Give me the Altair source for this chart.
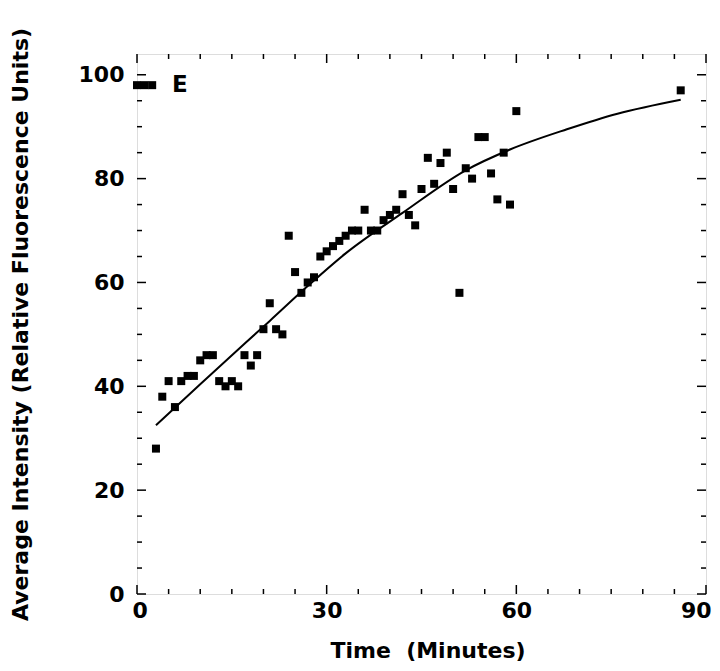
import altair as alt
import pandas as pd

# ---- data ----
time_min = [0, 1.2, 2.4, 3, 4, 5, 6, 7, 8, 9, 10, 11, 12, 13, 14, 15, 16, 17, 18, 19,
            20, 21, 22, 23, 24, 25, 26, 27, 28, 29, 30, 31, 32, 33, 34, 35, 36, 37, 38,
            39, 40, 41, 42, 43, 44, 45, 46, 47, 48, 49, 50, 51, 52, 53, 54, 55, 56, 57,
            58, 59, 60, 86]
intensity = [98, 98, 98, 28, 38, 41, 36, 41, 42, 42, 45, 46, 46, 41, 40, 41, 40, 46, 44, 46,
             51, 56, 51, 50, 69, 62, 58, 60, 61, 65, 66, 67, 68, 69, 70, 70, 74, 70, 70,
             72, 73, 74, 77, 73, 71, 78, 84, 79, 83, 85, 78, 58, 82, 80, 88, 88, 81, 76,
             85, 75, 93, 97]

fit_time = [3, 10, 17, 21, 27, 33, 42, 52, 59, 68, 76, 86]
fit_value = [32.5, 40.4, 48.2, 52.6, 59.3, 65.6, 73.4, 81.6, 85.6, 89.5, 92.5, 95.2]

y_major = [0, 20, 40, 60, 80, 100]
y_minor = [5, 10, 15, 25, 30, 35, 45, 50, 55, 65, 70, 75, 85, 90, 95]
x_major = [0, 30, 60, 90]
x_minor = [5, 10, 15, 20, 25, 35, 40, 45, 50, 55, 65, 70, 75, 80, 85]

panel_label = "E"

W, H = 569, 540
FONT = "DejaVu Sans"

pts = pd.DataFrame({"t": time_min, "v": intensity})
fit = pd.DataFrame({"t": fit_time, "v": fit_value})

xs = alt.Scale(domain=[0, 90], nice=False, zero=False)
ys = alt.Scale(domain=[0, 104], nice=False, zero=False)

xaxis = alt.Axis(values=x_major, format="d", ticks=False, grid=False, domain=False,
                 labelFont=FONT, labelFontWeight="bold", labelFontSize=22, labelColor="black",
                 labelPadding=6, labelFlush=True, labelFlushOffset=5,
                 title="Time\u00a0\u00a0(Minutes)", titleFont=FONT, titleFontWeight="bold",
                 titleFontSize=22, titleColor="black", titleBaseline="alphabetic",
                 titleY=63, titleX=W / 2 + 6)
yaxis = alt.Axis(values=y_major, format="d", ticks=False, grid=False, domain=False,
                 labelFont=FONT, labelFontWeight="bold", labelFontSize=22, labelColor="black",
                 labelPadding=13,
                 title="Average Intensity (Relative Fluorescence Units)", titleFont=FONT,
                 titleFontWeight="bold", titleFontSize=22, titleColor="black",
                 titleAngle=-90, titleBaseline="alphabetic", titleAlign="center",
                 titleX=-110, titleY=H / 2)

X = lambda f: alt.X(f, scale=xs, axis=xaxis)
Y = lambda f: alt.Y(f, scale=ys, axis=yaxis)

points = alt.Chart(pts).mark_square(size=64, color="black", opacity=1, filled=True).encode(
    x=X("t:Q"), y=Y("v:Q"))
curve = alt.Chart(fit).mark_line(color="black", strokeWidth=2, interpolate="monotone").encode(
    x=X("t:Q"), y=Y("v:Q"))

def yticks(vals, length):
    d = pd.DataFrame({"v": vals})
    left = alt.Chart(d).mark_rule(color="black", strokeWidth=1.5).encode(
        y=Y("v:Q"), x=alt.value(0), x2=alt.value(length))
    right = alt.Chart(d).mark_rule(color="black", strokeWidth=1.5).encode(
        y=Y("v:Q"), x=alt.value(W - length), x2=alt.value(W))
    return [left, right]

def xticks(vals, length):
    d = pd.DataFrame({"t": vals})
    bottom = alt.Chart(d).mark_rule(color="black", strokeWidth=1.5).encode(
        x=X("t:Q"), y=alt.value(H - length), y2=alt.value(H))
    top = alt.Chart(d).mark_rule(color="black", strokeWidth=1.5).encode(
        x=X("t:Q"), y=alt.value(0), y2=alt.value(length))
    return [bottom, top]

label = alt.Chart(pd.DataFrame({"s": [panel_label]})).mark_text(
    font=FONT, fontWeight="bold", fontSize=23, color="black", align="left",
    baseline="alphabetic").encode(text="s:N", x=alt.value(35), y=alt.value(38))

layers = yticks(y_major, 9) + yticks(y_minor, 5) + xticks(x_major, 9) + xticks(x_minor, 5)
chart = alt.layer(curve, points, *layers, label).properties(
    width=W, height=H,
    autosize=alt.AutoSizeParams(type="none"),
    padding={"left": 129, "top": 46, "right": 6, "bottom": 69},
).configure_view(stroke="black", strokeWidth=2).configure(background="white")

chart.save("out.html", embed_options={"renderer": "svg", "actions": False})
